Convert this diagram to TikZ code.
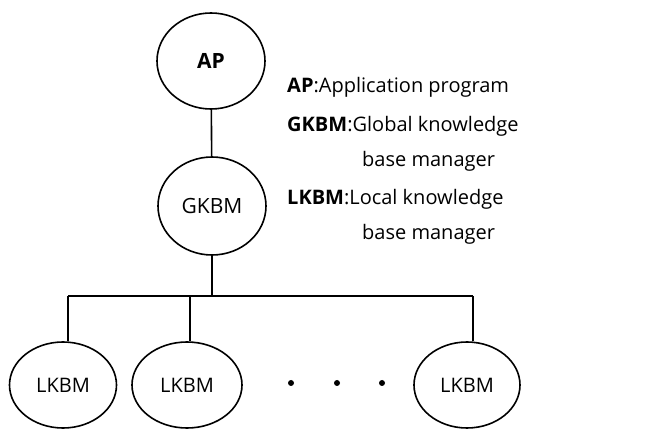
\documentclass[tikz,border=0pt]{standalone}
\usepackage{fontspec}
\setmainfont{Open Sans}
\usetikzlibrary{shapes.geometric}
\begin{document}
\begin{tikzpicture}[x=1pt,y=-1pt,
  mgr/.style={ellipse,draw,line width=1.6pt,inner sep=0pt,font=\fontsize{20}{20}\selectfont},
  wire/.style={line width=1.6pt},
  legend/.style={anchor=base west,inner sep=0pt,font=\fontsize{20}{20}\selectfont},
  dot/.style={circle,fill,inner sep=0pt,minimum size=6pt}]
\useasboundingbox (0,0) rectangle (659,430);
% hierarchy of managers
\node[mgr,minimum width=108pt,minimum height=96pt,font=\fontsize{21}{21}\selectfont\bfseries] (ap) at (211,61) {AP};
\node[mgr,minimum width=108pt,minimum height=98pt,font=\fontsize{21}{21}\selectfont] (gkbm) at (212,206) {GKBM};
\node[mgr,minimum width=107pt,minimum height=86pt] (l1) at (63,385) {LKBM};
\node[mgr,minimum width=110pt,minimum height=86pt] (l2) at (187,385) {LKBM};
\node[mgr,minimum width=106pt,minimum height=86pt] (l3) at (467,385) {LKBM};
% omitted managers
\node[dot] (d1) at (291,383) {};
\node[dot] (d2) at (337,383) {};
\node[dot] (d3) at (382,383) {};
% bus
\coordinate (bus) at (212,296);
\coordinate (bl) at (68,296);
\coordinate (b2) at (190,296);
\coordinate (br) at (473,296);
\draw[wire] (ap) -- (gkbm);
\draw[wire] (gkbm) -- (bus);
\draw[wire] (bl) -- (br);
\draw[wire] (bl) -- (bl |- l1.north);
\draw[wire] (b2) -- (b2 |- l2.north);
\draw[wire] (br) -- (br |- l3.north);
% legend
\node[legend] (t1) at (287,93) {\textbf{AP}:Application program};
\node[legend] (t2) at (287,132) {\textbf{GKBM}:Global knowledge};
\node[legend] (t3) at (362,167) {base manager};
\node[legend] (t4) at (287,205) {\textbf{LKBM}:Local knowledge};
\node[legend] (t5) at (362,240) {base manager};
\end{tikzpicture}
\end{document}
